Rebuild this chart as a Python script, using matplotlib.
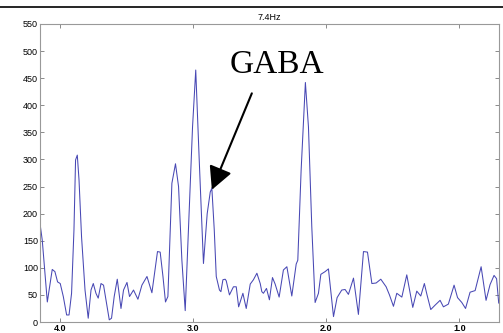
import numpy as np
import matplotlib
matplotlib.use("Agg")
import matplotlib.pyplot as plt
from matplotlib.lines import Line2D

# chemical shift (ppm) and signal intensity
ppm = [4.147, 4.130, 4.092, 4.055, 4.035, 4.015, 3.995, 3.972, 3.947, 3.929,
       3.910, 3.892, 3.880, 3.867, 3.854, 3.835, 3.809, 3.785, 3.764, 3.747,
       3.727, 3.710, 3.689, 3.670, 3.647, 3.627, 3.610, 3.590, 3.567, 3.539,
       3.520, 3.494, 3.475, 3.445, 3.412, 3.382, 3.344, 3.307, 3.265, 3.245,
       3.224, 3.205, 3.187, 3.157, 3.130, 3.107, 3.082, 3.057, 3.032, 3.002,
       2.978, 2.952, 2.920, 2.892, 2.869, 2.857, 2.839, 2.824, 2.800, 2.789,
       2.774, 2.757, 2.749, 2.725, 2.695, 2.674, 2.656, 2.624, 2.599, 2.569,
       2.545, 2.519, 2.494, 2.482, 2.470, 2.447, 2.425, 2.402, 2.382, 2.352,
       2.320, 2.294, 2.257, 2.224, 2.212, 2.187, 2.155, 2.132, 2.107, 2.082,
       2.057, 2.039, 2.007, 1.982, 1.944, 1.917, 1.882, 1.857, 1.832, 1.794,
       1.757, 1.719, 1.689, 1.656, 1.624, 1.589, 1.549, 1.524, 1.494, 1.469,
       1.431, 1.394, 1.349, 1.319, 1.289, 1.262, 1.242, 1.214, 1.182, 1.144,
       1.119, 1.082, 1.039, 1.013, 0.981, 0.953, 0.919, 0.881, 0.836, 0.799,
       0.769, 0.739, 0.720, 0.704]
intensity = [182, 151, 37, 97, 93, 74, 71, 47, 13, 13,
             53, 170, 299, 308, 262, 157, 59, 7, 59, 71,
             53, 44, 71, 68, 34, 4, 7, 47, 79, 25,
             59, 73, 47, 59, 42, 68, 84, 54, 130, 129,
             84, 37, 47, 256, 292, 250, 114, 21, 176, 360,
             465, 300, 108, 200, 240, 247, 170, 84, 59, 56,
             78, 79, 76, 50, 65, 65, 28, 53, 25, 70,
             78, 90, 71, 56, 53, 62, 41, 82, 70, 46,
             96, 102, 48, 107, 114, 280, 442, 360, 176, 36,
             53, 88, 93, 98, 10, 45, 59, 60, 51, 81,
             14, 130, 129, 71, 72, 79, 65, 50, 29, 53,
             46, 87, 27, 57, 48, 71, 50, 23, 31, 40,
             28, 33, 68, 45, 36, 25, 55, 58, 102, 40,
             69, 86, 80, 35]

x_ticks = [4.0, 3.0, 2.0, 1.0]
x_labels = ["4.0", "3.0", "2.0", "1.0"]
y_ticks = list(range(0, 551, 50))

fig = plt.figure(figsize=(5.03, 3.33), dpi=100)
ax = fig.add_axes([0.0795, 0.033, 0.9125, 0.895])

ax.plot(ppm, intensity, color="#4848b4", lw=0.75)

ax.set_xlim(4.147, 0.702)
ax.set_ylim(0, 550)
ax.set_xticks(x_ticks)
ax.set_xticklabels(x_labels, fontweight="bold")
ax.set_yticks(y_ticks)

for lab in ax.get_xticklabels() + ax.get_yticklabels():
    lab.set_family("Liberation Sans")
    lab.set_fontsize(6.5)

ax.tick_params(direction="in", length=3, width=0.6, color="#777777",
               top=True, right=True, pad=1.5)
for s in ax.spines.values():
    s.set_color("#999999")
    s.set_linewidth(0.8)

ax.set_title("7.4Hz", fontsize=6.5, family="Liberation Sans", pad=3)

# GABA label with arrow onto its peak
ax.text(2.367, 474, "GABA", fontsize=24, family="Liberation Serif",
        ha="center", va="center")
ax.annotate("", xy=(2.857, 244), xytext=(2.557, 422),
            arrowprops=dict(arrowstyle="-|>,head_length=0.7,head_width=0.36",
                            mutation_scale=20, lw=1.5, color="black",
                            shrinkA=0, shrinkB=0))

# page rule above the figure
fig.add_artist(Line2D([0, 1], [0.979, 0.979], color="black", lw=1.2,
                      transform=fig.transFigure))

fig.savefig("out.png", dpi=100)
